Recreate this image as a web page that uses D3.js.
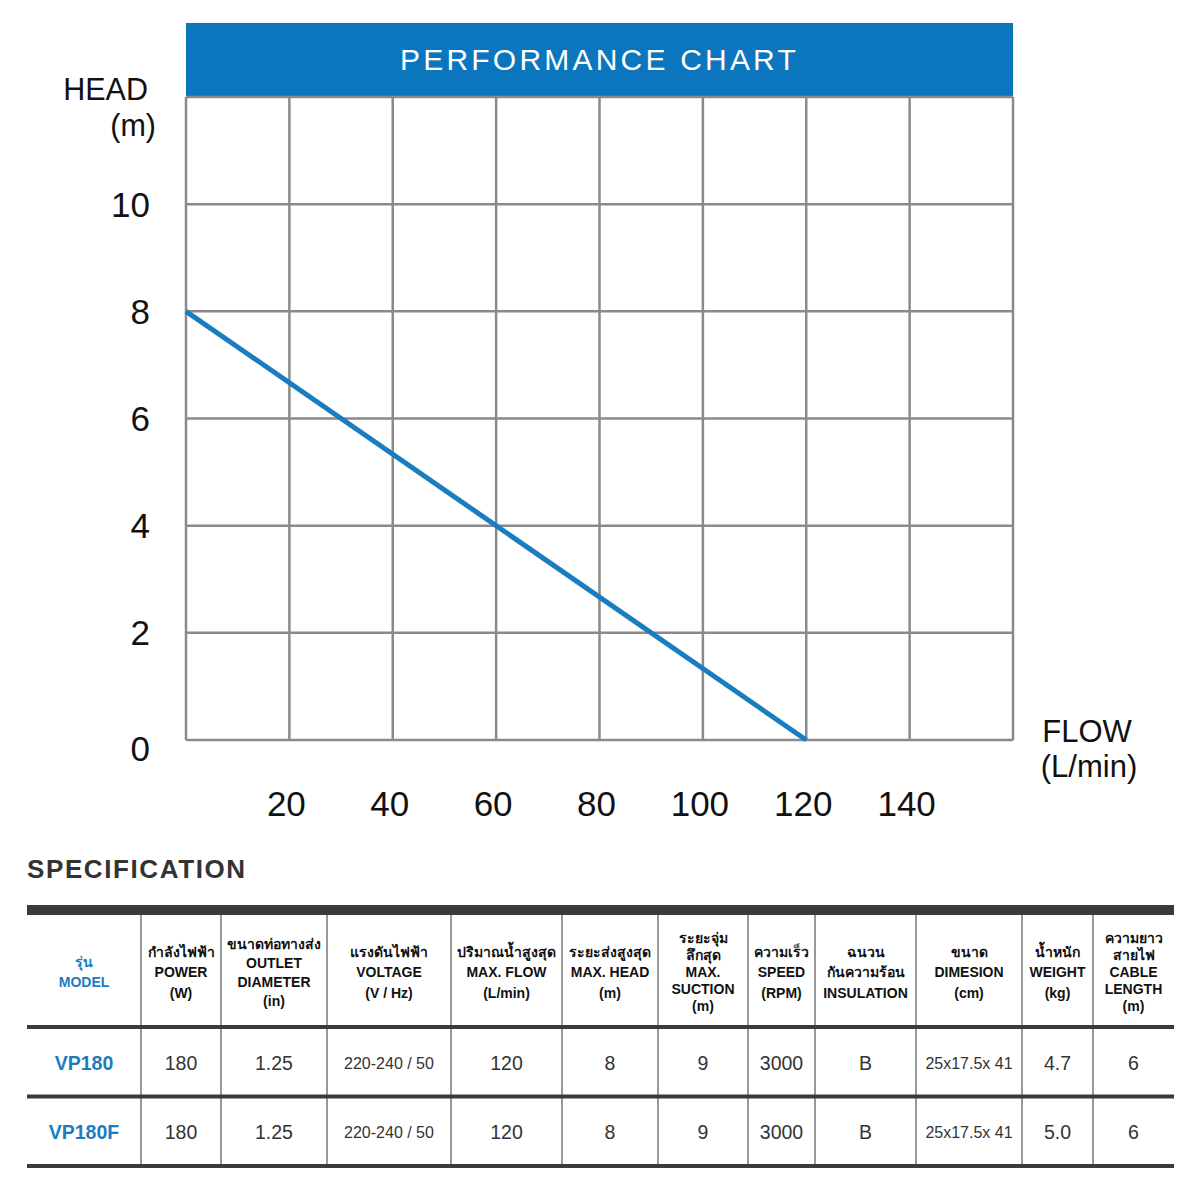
<!DOCTYPE html>
<html>
<head>
<meta charset="utf-8">
<script src="https://cdn.jsdelivr.net/npm/d3@7"></script>
<style>
  body { margin: 0; background: #fff; }
  svg { font-family: "Liberation Sans", Arial, "DejaVu Sans", sans-serif; }
</style>
</head>
<body>
<svg width="1200" height="1200"></svg>
<script>
// chart data
const flowTicks = [20, 40, 60, 80, 100, 120, 140];
const headTicks = [0, 2, 4, 6, 8, 10];
const curveFlow = [0, 120];
const curveHead = [8, 0];

// specification table data
const headers = [
    ['รุ่น', 'MODEL'],
    ['กำลังไฟฟ้า', 'POWER', '(W)'],
    ['ขนาดท่อทางส่ง', 'OUTLET', 'DIAMETER', '(in)'],
    ['แรงดันไฟฟ้า', 'VOLTAGE', '(V / Hz)'],
    ['ปริมาณน้ำสูงสุด', 'MAX. FLOW', '(L/min)'],
    ['ระยะส่งสูงสุด', 'MAX. HEAD', '(m)'],
    ['ระยะจุ่ม', 'ลึกสุด', 'MAX.', 'SUCTION', '(m)'],
    ['ความเร็ว', 'SPEED', '(RPM)'],
    ['ฉนวน', 'กันความร้อน', 'INSULATION'],
    ['ขนาด', 'DIMESION', '(cm)'],
    ['น้ำหนัก', 'WEIGHT', '(kg)'],
    ['ความยาว', 'สายไฟ', 'CABLE', 'LENGTH', '(m)']
];
const models = ['VP180', 'VP180F'];
const power = ['180', '180'];
const outlet = ['1.25', '1.25'];
const voltage = ['220-240 / 50', '220-240 / 50'];
const maxFlow = ['120', '120'];
const maxHead = ['8', '8'];
const suction = ['9', '9'];
const speed = ['3000', '3000'];
const insulation = ['B', 'B'];
const dimension = ['25x17.5x 41', '25x17.5x 41'];
const weight = ['4.7', '5.0'];
const cable = ['6', '6'];

const svg = d3.select('svg');
const blue = '#0b76bd';
const gridColor = '#8a8a8a';

// ---------- performance chart ----------
const plot = { left: 186, right: 1013, top: 97, bottom: 740 };

const x = d3.scaleLinear().domain([0, 160]).range([plot.left, plot.right]);
const y = d3.scaleLinear().domain([0, 12]).range([plot.bottom, plot.top]);

svg.append('rect')
    .attr('x', plot.left)
    .attr('y', 23)
    .attr('width', plot.right - plot.left)
    .attr('height', plot.top - 23)
    .attr('fill', blue);

svg.append('text')
    .attr('x', (plot.left + plot.right) / 2)
    .attr('y', 70)
    .attr('text-anchor', 'middle')
    .attr('fill', '#fff')
    .attr('font-size', 30)
    .attr('letter-spacing', 3.2)
    .text('PERFORMANCE CHART');

const grid = svg.append('g')
    .attr('stroke', gridColor)
    .attr('stroke-width', 2.5);

grid.selectAll('.vline')
    .data(d3.range(0, 161, 20))
    .enter()
    .append('line')
    .attr('class', 'vline')
    .attr('x1', d => x(d))
    .attr('x2', d => x(d))
    .attr('y1', plot.top)
    .attr('y2', plot.bottom);

grid.selectAll('.hline')
    .data(d3.range(0, 13, 2))
    .enter()
    .append('line')
    .attr('class', 'hline')
    .attr('x1', plot.left)
    .attr('x2', plot.right)
    .attr('y1', d => y(d))
    .attr('y2', d => y(d));

const line = d3.line()
    .x(d => x(d[0]))
    .y(d => y(d[1]));

svg.append('path')
    .datum(d3.zip(curveFlow, curveHead))
    .attr('d', line)
    .attr('fill', 'none')
    .attr('stroke', '#1a7dc0')
    .attr('stroke-width', 5);

svg.selectAll('.ytick')
    .data(headTicks)
    .enter()
    .append('text')
    .attr('class', 'ytick')
    .attr('x', 150)
    .attr('y', d => d === 0 ? y(d) + 8 : y(d))
    .attr('dy', '0.36em')
    .attr('text-anchor', 'end')
    .attr('font-size', 35)
    .attr('fill', '#111')
    .text(d => d);

svg.selectAll('.xtick')
    .data(flowTicks)
    .enter()
    .append('text')
    .attr('class', 'xtick')
    .attr('x', d => x(d) - 3)
    .attr('y', 816)
    .attr('text-anchor', 'middle')
    .attr('font-size', 35)
    .attr('fill', '#111')
    .text(d => d);

svg.append('text')
    .attr('x', 148).attr('y', 100)
    .attr('text-anchor', 'end')
    .attr('font-size', 30.5).attr('fill', '#111')
    .text('HEAD');
svg.append('text')
    .attr('x', 156).attr('y', 136)
    .attr('text-anchor', 'end')
    .attr('font-size', 30.5).attr('fill', '#111')
    .text('(m)');

svg.append('text')
    .attr('x', 1087).attr('y', 742)
    .attr('text-anchor', 'middle')
    .attr('font-size', 31).attr('fill', '#111')
    .text('FLOW');
svg.append('text')
    .attr('x', 1089).attr('y', 777)
    .attr('text-anchor', 'middle')
    .attr('font-size', 31).attr('fill', '#111')
    .text('(L/min)');

// ---------- specification table ----------
svg.append('text')
    .attr('x', 27).attr('y', 878)
    .attr('font-size', 26)
    .attr('font-weight', 'bold')
    .attr('letter-spacing', 1.6)
    .attr('fill', '#333')
    .text('SPECIFICATION');

const colEdges = [27, 141, 221, 327, 451, 562, 658, 748, 815, 916, 1022, 1093, 1174];
const tableTop = 905, headBottom = 1027, rowH = 69.5;
const tableBottom = headBottom + rowH * models.length;

const columns = [models, power, outlet, voltage, maxFlow, maxHead, suction,
    speed, insulation, dimension, weight, cable];
const rows = models.map((m, i) => columns.map(c => c[i]));

const t = svg.append('g');

// vertical separators
t.selectAll('.vsep')
    .data(colEdges.slice(1, -1))
    .enter()
    .append('line')
    .attr('x1', d => d).attr('x2', d => d)
    .attr('y1', tableTop + 10).attr('y2', tableBottom)
    .attr('stroke', '#777')
    .attr('stroke-width', 1.5);

// thick horizontal rules
t.append('rect')
    .attr('x', colEdges[0]).attr('y', tableTop)
    .attr('width', colEdges[colEdges.length - 1] - colEdges[0])
    .attr('height', 10)
    .attr('fill', '#3a3a3a');

t.selectAll('.hsep')
    .data(d3.range(models.length + 1).map(i => headBottom + i * rowH))
    .enter()
    .append('line')
    .attr('x1', colEdges[0]).attr('x2', colEdges[colEdges.length - 1])
    .attr('y1', d => d).attr('y2', d => d)
    .attr('stroke', '#3a3a3a')
    .attr('stroke-width', 4);

const colMid = i => (colEdges[i] + colEdges[i + 1]) / 2;
const headMid = (tableTop + 10 + headBottom) / 2 + 1;

headers.forEach((lines, i) => {
    const lh = lines.length >= 5 ? 16.8 : lines.length === 4 ? 19 : 20.5;
    const start = headMid - (lines.length - 1) * lh / 2;
    t.append('text')
        .attr('x', colMid(i))
        .attr('text-anchor', 'middle')
        .attr('font-size', 14)
        .attr('font-weight', 'bold')
        .attr('fill', i === 0 ? '#1a7dc0' : '#111')
        .selectAll('tspan')
        .data(lines)
        .enter()
        .append('tspan')
        .attr('x', colMid(i))
        .attr('y', (d, k) => start + k * lh)
        .attr('dy', '0.36em')
        .text(d => d);
});

rows.forEach((row, r) => {
    const cy = headBottom + rowH * r + rowH / 2 + 1;
    t.selectAll('.cell' + r)
        .data(row)
        .enter()
        .append('text')
        .attr('x', (d, i) => colMid(i))
        .attr('y', cy)
        .attr('dy', '0.36em')
        .attr('text-anchor', 'middle')
        .attr('font-size', (d, i) => (i === 3 || i === 9) ? 16 : 19.5)
        .attr('font-weight', (d, i) => i === 0 ? 'bold' : 'normal')
        .attr('fill', (d, i) => i === 0 ? '#1a7dc0' : '#333')
        .text(d => d);
});
</script>
</body>
</html>
